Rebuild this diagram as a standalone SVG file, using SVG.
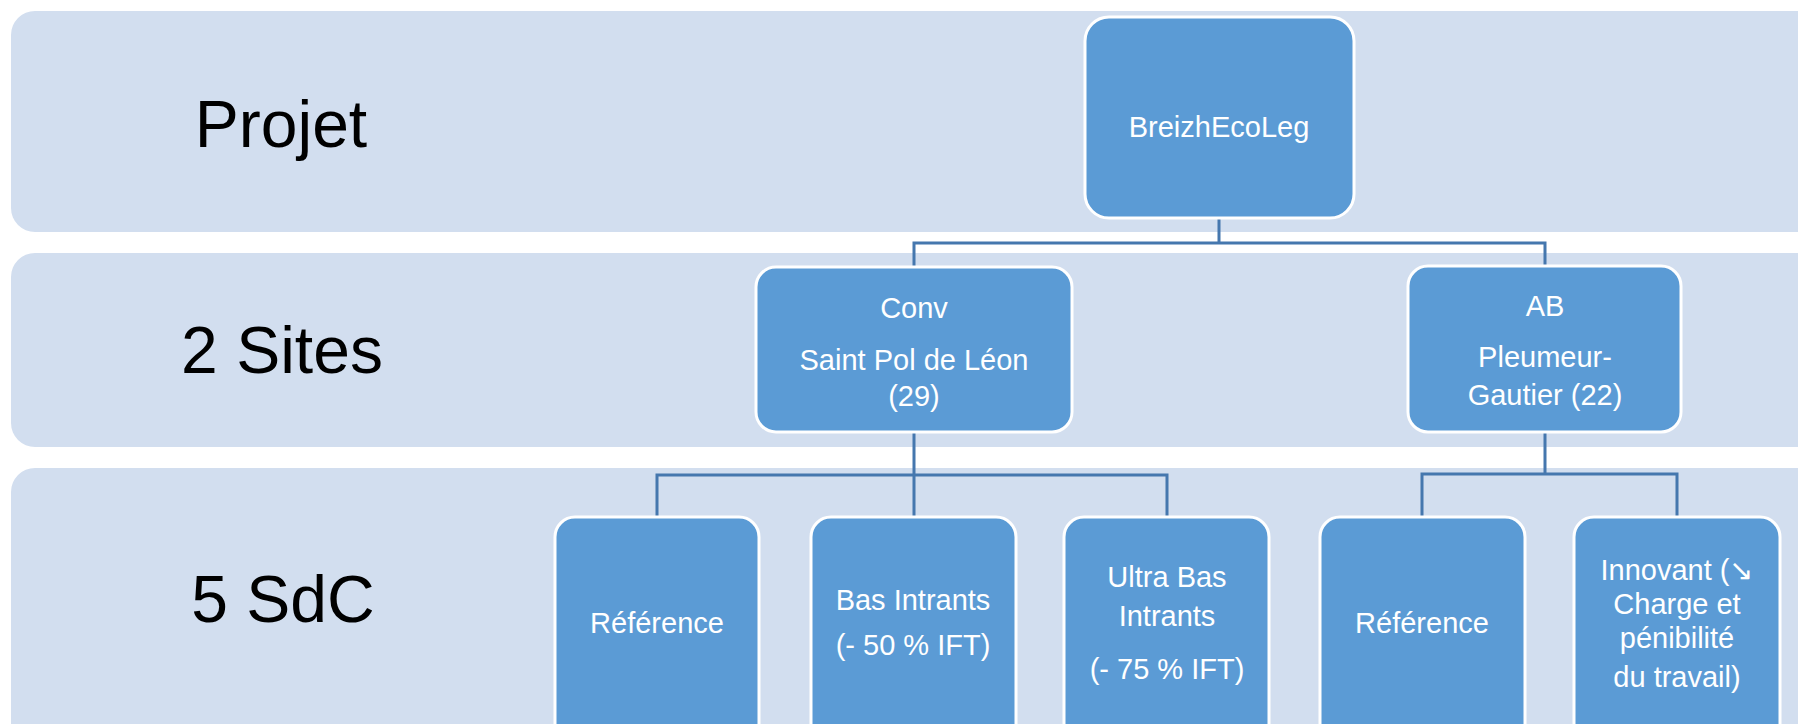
<svg xmlns="http://www.w3.org/2000/svg" width="1798" height="724" viewBox="0 0 1798 724">
<style>
.band{fill:#D2DEEF;}
.box{fill:#5B9BD5;stroke:#FFFFFF;stroke-width:3;}
.t{font-family:"Liberation Sans",Arial,sans-serif;font-size:29px;fill:#FFFFFF;text-anchor:middle;}
.lbl{font-family:"Liberation Sans",Arial,sans-serif;font-size:66px;fill:#000000;text-anchor:middle;}
.con{fill:none;stroke:#4577AE;stroke-width:3;}
</style>
<rect width="1798" height="724" fill="#FFFFFF"/>
<g id="bands">
<rect class="band" x="11" y="11" width="1820" height="221" rx="24"/>
<rect class="band" x="11" y="253" width="1820" height="194" rx="24"/>
<rect class="band" x="11" y="468" width="1820" height="290" rx="24"/>
<text class="lbl" x="281" y="147">Projet</text>
<text class="lbl" x="282" y="373">2 Sites</text>
<text class="lbl" x="283" y="622">5 SdC</text>
</g>
<g id="connectors">
<path class="con" d="M1219,218 V243 H914 V267 M1219,243 H1545 V266"/>
<path class="con" d="M914,432 V475 H657 V517 M914,475 H1167 V517 M914,475 V517"/>
<path class="con" d="M1545,432 V474 H1422 V517 M1545,474 H1677 V517"/>
</g>
<g id="n-breizhecoleg">
<rect class="box" x="1085" y="17" width="269" height="201" rx="24"/>
<text class="t" x="1219" y="137">BreizhEcoLeg</text>
</g>
<g id="n-conv">
<rect class="box" x="756" y="267" width="316" height="165" rx="20"/>
<text class="t" x="914" y="318">Conv</text>
<text class="t" x="914" y="370">Saint Pol de Léon</text>
<text class="t" x="914" y="406">(29)</text>
</g>
<g id="n-ab">
<rect class="box" x="1408" y="266" width="273" height="166" rx="20"/>
<text class="t" x="1545" y="316">AB</text>
<text class="t" x="1545" y="367">Pleumeur-</text>
<text class="t" x="1545" y="405">Gautier (22)</text>
</g>
<g id="n-ref1">
<rect class="box" x="555" y="517" width="204" height="240" rx="20"/>
<text class="t" x="657" y="633">Référence</text>
</g>
<g id="n-bas">
<rect class="box" x="811" y="517" width="205" height="240" rx="20"/>
<text class="t" x="913" y="610">Bas Intrants</text>
<text class="t" x="913" y="655">(- 50 % IFT)</text>
</g>
<g id="n-ultra">
<rect class="box" x="1064" y="517" width="205" height="240" rx="20"/>
<text class="t" x="1167" y="587">Ultra Bas</text>
<text class="t" x="1167" y="626">Intrants</text>
<text class="t" x="1167" y="679">(- 75 % IFT)</text>
</g>
<g id="n-ref2">
<rect class="box" x="1320" y="517" width="205" height="240" rx="20"/>
<text class="t" x="1422" y="633">Référence</text>
</g>
<g id="n-innovant">
<rect class="box" x="1574" y="517" width="206" height="240" rx="20"/>
<text class="t" x="1677" y="580">Innovant (↘</text>
<text class="t" x="1677" y="614">Charge et</text>
<text class="t" x="1677" y="648">pénibilité</text>
<text class="t" x="1677" y="687">du travail)</text>
</g>
</svg>
